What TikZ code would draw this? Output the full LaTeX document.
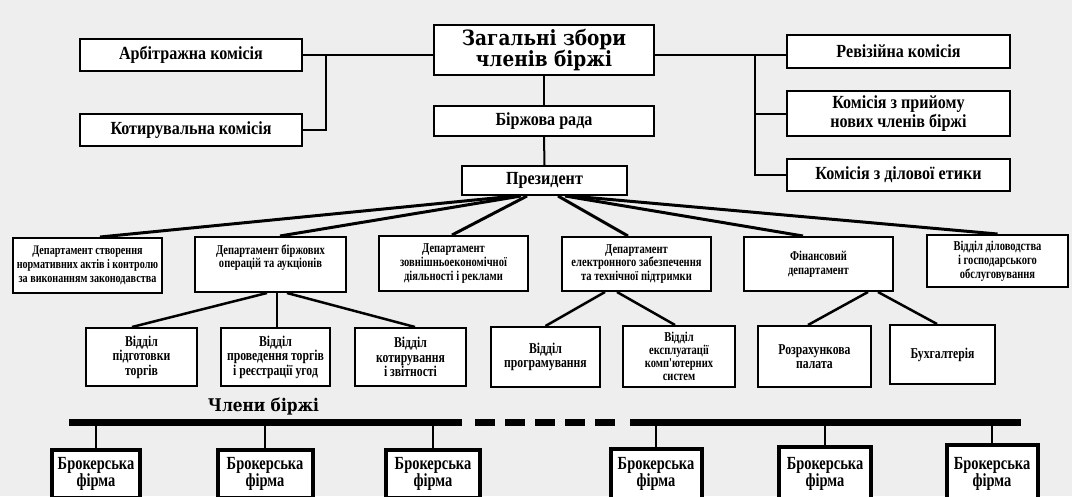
\documentclass[tikz,border=0pt]{standalone}
\usepackage{fontspec}
\setmainfont{Liberation Serif}
\newfontfamily\cnd[FakeStretch=0.87]{Liberation Serif}
\newfontfamily\cndn[FakeStretch=0.78]{Liberation Serif}
\newfontfamily\ttl[FakeStretch=0.88]{DejaVu Serif}
\usetikzlibrary{calc}
\definecolor{bgc}{RGB}{238,238,238}
\tikzset{
  box/.style={draw, line width=2pt, fill=white, inner sep=0pt, align=center, text=black},
  topbox/.style={box, font=\cnd\bfseries\fontsize{18.5}{19}\selectfont},
  deptbox/.style={box, font=\cndn\bfseries\fontsize{13.5}{13.8}\selectfont},
  subbox/.style={box, font=\cndn\bfseries\fontsize{15}{14.5}\selectfont},
  firmbox/.style={box, line width=4pt, font=\cndn\bfseries\fontsize{18.5}{16.5}\selectfont},
  conn/.style={line width=2pt},
  fan/.style={line width=3pt},
  subln/.style={line width=2.5pt},
  thin/.style={line width=1.6pt},
  bar/.style={line width=7pt}
}
\begin{document}
\begin{tikzpicture}[x=1pt,y=-1pt]
\useasboundingbox (0,0) rectangle (1072,496);
\clip (0,0) rectangle (1072,496);
\fill[bgc] (0,0) rectangle (1072,496);

% top level
\node[box, minimum width=220pt, minimum height=50pt, font=\ttl\bfseries\fontsize{21}{19}\selectfont] (zag) at (544,50) {Загальні збори\\членів біржі};
\node[topbox, minimum width=222pt, minimum height=32pt] (arb) at (191,55) {Арбітражна комісія};
\node[topbox, minimum width=222pt, minimum height=32pt] (kot) at (191,130) {Котирувальна комісія};
\node[topbox, minimum width=220pt, minimum height=30pt] (rada) at (544,121) {Біржова рада};
\node[topbox, minimum width=165pt, minimum height=29pt] (pres) at (544.5,180.5) {Президент};
\node[topbox, minimum width=223pt, minimum height=33pt] (rev) at (898.5,51.5) {Ревізійна комісія};
\node[topbox, minimum width=223pt, minimum height=45pt] (pri) at (898.5,113.5) {Комісія з прийому\\нових членів біржі};
\node[topbox, minimum width=223pt, minimum height=32pt] (dil) at (898.5,175) {Комісія з ділової етики};

\coordinate (jL) at (325.5,55);
\coordinate (jR) at (755,55);
\draw[conn] (arb.east |- jL) -- (zag.west |- jL);
\draw[conn] (jL) |- (kot.east);
\draw[conn] (zag.east |- jR) -- (rev.west |- jR);
\draw[conn] (jR) |- (pri.west);
\draw[conn] (jR) |- (dil.west);
\draw[conn] (zag.south) -- (rada.north);
\draw[conn] (rada.south) -- (pres.north);

% departments
\node[deptbox, minimum width=149pt, minimum height=55pt, font=\cndn\bfseries\fontsize{13}{13.8}\selectfont] (d1) at (87.5,265.5) {Департамент створення\\нормативних актів і контролю\\за виконанням законодавства};
\node[deptbox, minimum width=151pt, minimum height=55pt] (d2) at (270.5,264.5) {Департамент біржових\\операцій та аукціонів\\[3pt]};
\node[deptbox, minimum width=149pt, minimum height=55pt] (d3) at (453.5,263.5) {Департамент\\зовнішньоекономічної\\діяльності і реклами};
\node[deptbox, minimum width=149pt, minimum height=54pt] (d4) at (636.5,264) {Департамент\\електронного забезпечення\\та технічної підтримки};
\node[deptbox, minimum width=149pt, minimum height=54pt] (d5) at (818.5,264) {Фінансовий\\департамент};
\node[deptbox, minimum width=141pt, minimum height=52pt] (d6) at (997.5,261) {Відділ діловодства\\і господарського\\обслуговування};

\draw[fan] ([xshift=-29.5pt]pres.south) -- ([xshift=12.5pt]d1.north);
\draw[fan] ([xshift=-23.5pt]pres.south) -- ([xshift=9.5pt]d2.north);
\draw[fan] ([xshift=-17.5pt]pres.south) -- ([xshift=-1.5pt]d3.north);
\draw[fan] ([xshift=13.5pt]pres.south) -- ([xshift=-8.5pt]d4.north);
\draw[fan] ([xshift=20.5pt]pres.south) -- ([xshift=-15.5pt]d5.north);
\draw[fan] ([xshift=26.5pt]pres.south) -- (d6.north);

% sub units
\node[subbox, minimum width=111pt, minimum height=58pt] (s1) at (141.5,357) {Відділ\\підготовки\\торгів};
\node[subbox, minimum width=109pt, minimum height=58pt] (s2) at (275.5,357) {Відділ\\проведення торгів\\і реєстрації угод};
\node[subbox, minimum width=111pt, minimum height=58pt] (s3) at (410.5,357) {Відділ\\котирування\\і звітності};
\node[subbox, minimum width=109pt, minimum height=60pt] (s4) at (545.5,357) {Відділ\\програмування};
\node[subbox, minimum width=112pt, minimum height=61pt, font=\cndn\bfseries\fontsize{13.5}{13}\selectfont] (s5) at (679,356.5) {Відділ\\експлуатації\\комп'ютерних\\систем};
\node[subbox, minimum width=113pt, minimum height=61pt] (s6) at (814.5,356.5) {Розрахункова\\палата};
\node[subbox, minimum width=105pt, minimum height=59pt] (s7) at (942.5,354.5) {Бухгалтерія};

\draw[subln] ([xshift=-3.5pt]d2.south) -- ([xshift=-9.5pt]s1.north);
\draw[subln] ([xshift=6.5pt]d2.south) -- ([xshift=1.5pt]s2.north);
\draw[subln] ([xshift=16.5pt]d2.south) -- ([xshift=4.5pt]s3.north);
\draw[subln] ([xshift=-31.5pt]d4.south) -- (s4.north);
\draw[subln] ([xshift=-19.5pt]d4.south) -- ([xshift=-4pt]s5.north);
\draw[subln] ([xshift=49.5pt]d5.south) -- ([xshift=-6.5pt]s6.north);
\draw[subln] ([xshift=59.5pt]d5.south) -- ([xshift=-5.5pt]s7.north);

% members
\node[font=\ttl\bfseries\fontsize{17.5}{18}\selectfont, inner sep=0pt] (mem) at (263.5,407) {Члени біржі};
\coordinate (b0) at (69,422);
\coordinate (b1) at (462,422);
\coordinate (b2) at (475,422);
\coordinate (b3) at (615,422);
\coordinate (b4) at (630,422);
\coordinate (b5) at (1021,422);

\node[firmbox, minimum width=88pt, minimum height=48pt] (f1) at (96,474) {Брокерська\\фірма};
\node[firmbox, minimum width=95pt, minimum height=48pt] (f2) at (265,474) {Брокерська\\фірма};
\node[firmbox, minimum width=94pt, minimum height=48pt] (f3) at (433,474) {Брокерська\\фірма};
\node[firmbox, minimum width=91pt, minimum height=50pt] (f4) at (656,474) {Брокерська\\фірма};
\node[firmbox, minimum width=92pt, minimum height=54pt] (f5) at (825,474) {Брокерська\\фірма};
\node[firmbox, minimum width=91pt, minimum height=58pt] (f6) at (992,474) {Брокерська\\фірма};

\foreach \f in {f1,f2,f3,f4,f5,f6}{
  \draw[thin] (\f.north |- b0) -- (\f.north);
}
\draw[bar] (b0) -- (b1);
\draw[bar, dash pattern=on 20pt off 10pt] (b2) -- (b3);
\draw[bar] (b4) -- (b5);
\end{tikzpicture}
\end{document}
